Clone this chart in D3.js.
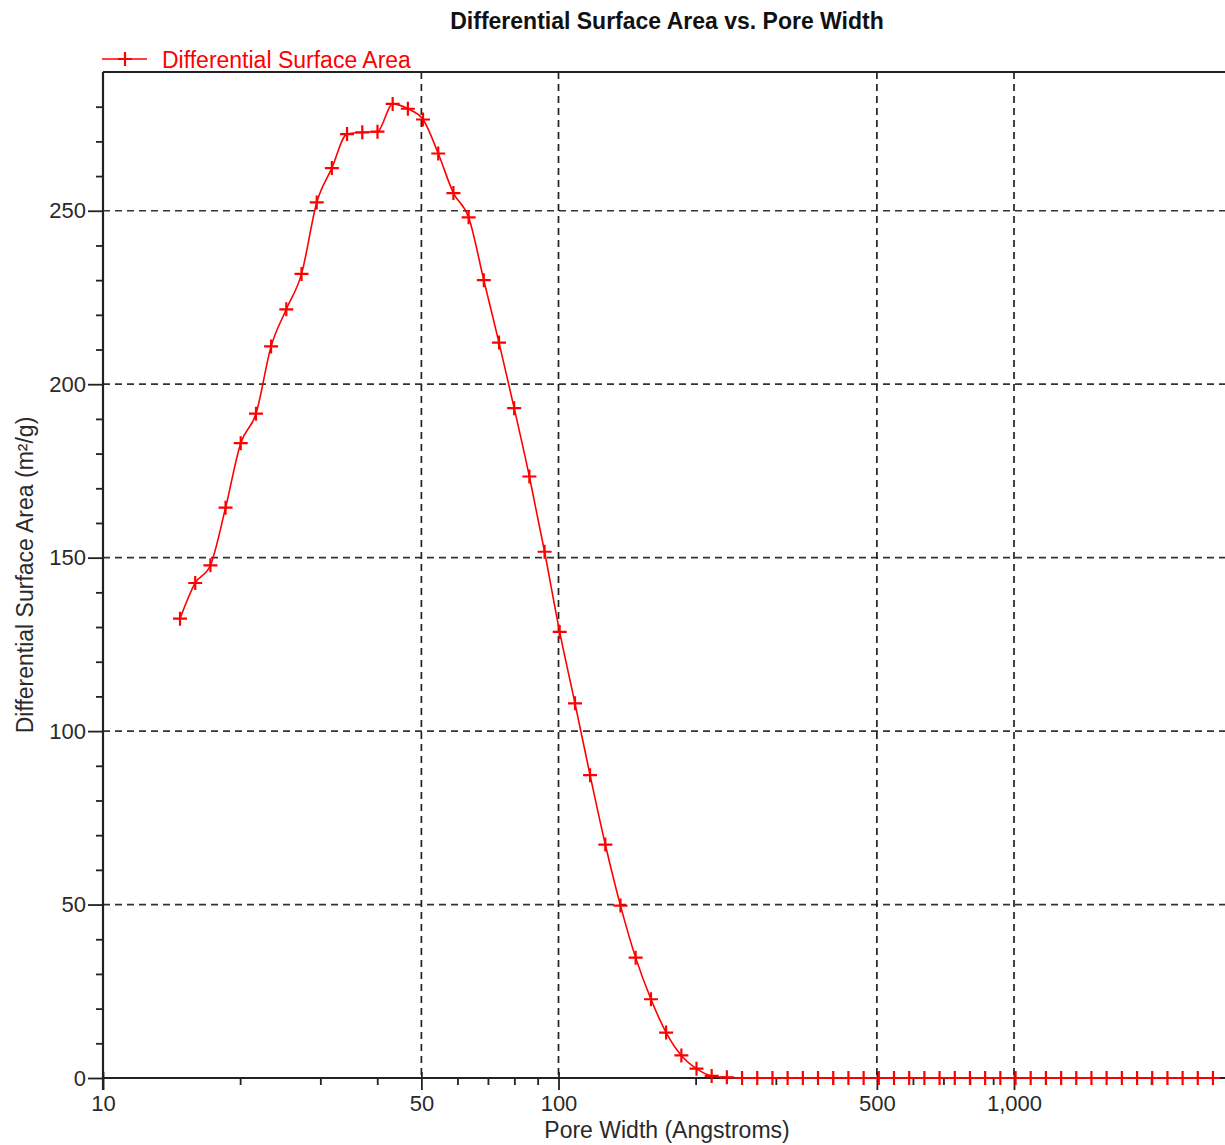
<!DOCTYPE html>
<html>
<head>
<meta charset="utf-8">
<script src="https://cdn.jsdelivr.net/npm/d3@7"></script>
<style>
  html, body { margin: 0; padding: 0; background: #fff; }
  svg { display: block; font-family: "Liberation Sans", Arial, sans-serif; }
</style>
</head>
<body>
<svg id="chart" width="1225" height="1145"></svg>
<script>
// Pore width (Angstroms) for each measured point
const poreWidth = [
  14.76, 15.94, 17.21, 18.58, 20.06, 21.67, 23.39, 25.26, 27.28, 29.46,
  31.80, 34.34, 37.09, 40.05, 43.24, 46.70, 50.42, 54.45, 58.79, 63.49,
  68.55, 74.03, 79.93, 86.31, 93.20, 100.6, 108.7, 117.3, 126.7, 136.8,
  147.7, 159.6, 172.3, 186.1, 200.9, 216.9, 234.2, 252.9, 273.1, 294.9,
  318.4, 343.9, 371.3, 401.0, 433.0, 467.6, 504.9, 545.2, 588.7, 635.7,
  686.4, 741.3, 800.4, 864.3, 933.3, 1008, 1088, 1175, 1269, 1370,
  1479, 1597, 1725, 1863, 2011, 2172, 2345, 2532, 2734
];

// Differential surface area (m²/g) at each pore width
const surfaceArea = [
  132.4, 142.7, 147.8, 164.4, 183.0, 191.5, 210.9, 221.6, 231.8, 252.4,
  262.3, 272.1, 272.6, 272.8, 280.8, 279.4, 276.3, 266.5, 255.1, 248.1,
  230.0, 212.0, 193.1, 173.4, 151.7, 128.6, 108.0, 87.3, 67.3, 49.7,
  34.7, 22.7, 13.1, 6.5, 2.7, 0.6, 0.2, 0, 0, 0,
  0, 0, 0, 0, 0, 0, 0, 0, 0, 0,
  0, 0, 0, 0, 0, 0, 0, 0, 0, 0,
  0, 0, 0, 0, 0, 0, 0, 0, 0
];

const xMajorTicks = [10, 50, 100, 500, 1000];
const xMinorTicks = [20, 30, 40, 60, 70, 80, 90, 200, 300, 400, 600, 700, 800, 900, 2000, 3000];
const yMajorTicks = [0, 50, 100, 150, 200, 250];
const yMinorTicks = [10, 20, 30, 40, 60, 70, 80, 90, 110, 120, 130, 140, 160, 170, 180, 190,
                     210, 220, 230, 240, 260, 270, 280];

const titleText = "Differential Surface Area vs. Pore Width";
const xLabel = "Pore Width (Angstroms)";
const yLabel = "Differential Surface Area (m²/g)";
const seriesName = "Differential Surface Area";

const points = poreWidth.map((w, i) => ({ w, v: surfaceArea[i] }));

const svg = d3.select("#chart");
const plotLeft = 103, plotTop = 72, plotBottom = 1078, plotRight = 1225;
const pxPerDecade = 455.5;

const x = d3.scaleLog().domain([10, 3000])
  .range([plotLeft, plotLeft + Math.log10(300) * pxPerDecade]);
const y = d3.scaleLinear().domain([0, 290]).range([plotBottom, plotTop]);

const red = "#ff0000";
const axisColor = "#222";
const textColor = "#2a2a2a";

// Grid lines
const grid = svg.append("g");
grid.selectAll("line.hg").data(yMajorTicks.filter(d => d > 0)).join("line")
  .attr("x1", plotLeft).attr("x2", plotRight)
  .attr("y1", d => y(d)).attr("y2", d => y(d))
  .attr("stroke", "#333").attr("stroke-width", 1.7)
  .attr("stroke-dasharray", "7,5");
grid.selectAll("line.vg").data(xMajorTicks.filter(d => d > 10)).join("line")
  .attr("x1", d => x(d)).attr("x2", d => x(d))
  .attr("y1", plotTop).attr("y2", plotBottom)
  .attr("stroke", "#222").attr("stroke-width", 1.7)
  .attr("stroke-dasharray", "7,5");

// Y axis: major ticks with labels, then short minor ticks
const yAxis = svg.append("g").attr("transform", `translate(${plotLeft},0)`)
  .call(d3.axisLeft(y).tickValues(yMajorTicks).tickSize(15).tickPadding(2).tickFormat(d3.format("d")));
yAxis.append("g").call(d3.axisLeft(y).tickValues(yMinorTicks).tickSize(7).tickFormat(""))
  .select(".domain").remove();

// X axis: major ticks cross the axis line, minor ticks point down
const xAxis = svg.append("g").attr("transform", `translate(0,${plotBottom})`)
  .call(d3.axisBottom(x).tickValues(xMajorTicks).tickSize(12).tickPadding(5).tickFormat(d3.format(",")));
xAxis.selectAll(".tick line").attr("y1", -6);
xAxis.append("g").call(d3.axisBottom(x).tickValues(xMinorTicks).tickSize(7).tickFormat(""))
  .select(".domain").remove();

[yAxis, xAxis].forEach(g => {
  g.selectAll("path.domain").attr("stroke", axisColor).attr("stroke-width", 2.2);
  g.selectAll(".tick line").attr("stroke", axisColor).attr("stroke-width", 1.8);
  g.selectAll(".tick text").attr("fill", textColor)
    .style("font-size", "22px").style("font-family", "'Liberation Sans', Arial, sans-serif");
});
xAxis.select("path.domain").attr("d", `M${plotLeft},0H${plotRight}`);
yAxis.select("path.domain").attr("d", `M0,${plotTop}V${plotBottom + 12}`);

// Top frame line
svg.append("line")
  .attr("x1", plotLeft).attr("x2", plotRight).attr("y1", plotTop).attr("y2", plotTop)
  .attr("stroke", axisColor).attr("stroke-width", 2.2);

// Series line
const line = d3.line().x(d => x(d.w)).y(d => y(d.v)).curve(d3.curveMonotoneX);
svg.append("path").datum(points)
  .attr("d", line)
  .attr("fill", "none").attr("stroke", red).attr("stroke-width", 1.6);

// Cross markers
const half = 7;
const crossPath = (cx, cy) => `M${cx - half},${cy}H${cx + half}M${cx},${cy - half}V${cy + half}`;
svg.append("g").selectAll("path").data(points).join("path")
  .attr("d", d => crossPath(x(d.w), y(d.v)))
  .attr("stroke", red).attr("stroke-width", 2.2).attr("fill", "none");

// Title
svg.append("text")
  .attr("x", 667).attr("y", 29)
  .attr("text-anchor", "middle")
  .attr("fill", "#111")
  .style("font-size", "23px").style("font-weight", "bold")
  .text(titleText);

// Legend
const legend = svg.append("g");
legend.append("line").attr("x1", 102).attr("x2", 147).attr("y1", 59).attr("y2", 59)
  .attr("stroke", red).attr("stroke-width", 1.6);
legend.append("path").attr("d", crossPath(125, 59))
  .attr("stroke", red).attr("stroke-width", 2.2);
legend.append("text").attr("x", 162).attr("y", 68)
  .attr("fill", red).style("font-size", "23px")
  .text(seriesName);

// Axis titles
svg.append("text")
  .attr("x", 667).attr("y", 1138)
  .attr("text-anchor", "middle").attr("fill", textColor)
  .style("font-size", "23px")
  .text(xLabel);

svg.append("text")
  .attr("transform", "translate(33,575) rotate(-90)")
  .attr("text-anchor", "middle").attr("fill", textColor)
  .style("font-size", "23px")
  .text(yLabel);
</script>
</body>
</html>
